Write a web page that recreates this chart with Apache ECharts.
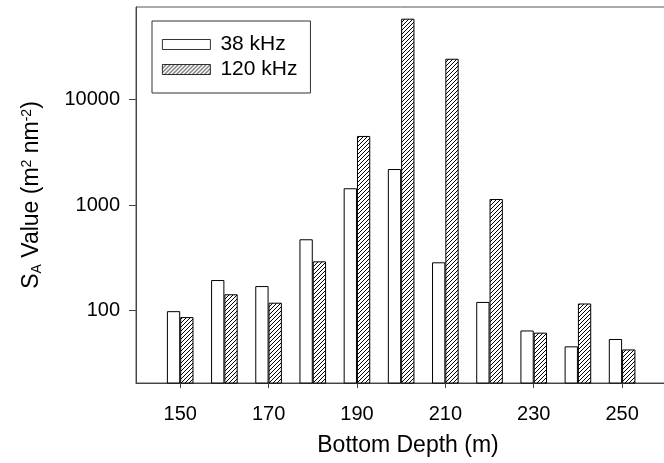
<!DOCTYPE html>
<html>
<head>
<meta charset="utf-8">
<script src="https://cdn.jsdelivr.net/npm/echarts@6/dist/echarts.min.js"></script>
<style>
  html, body { margin: 0; padding: 0; background: #fff; }
  #chart { width: 664px; height: 463px; }
</style>
</head>
<body>
<div id="chart"></div>
<script>
const depths = [150, 160, 170, 180, 190, 200, 210, 220, 230, 240, 250];
const sa38 = [99, 195, 171, 474, 1440, 2190, 287, 121, 65, 46, 54];
const sa120 = [87, 143, 119, 293, 4500, 57900, 24200, 1140, 62, 117, 43];
const xTicks = [150, 170, 190, 210, 230, 250];
const yTicks = [100, 1000, 10000];

const FONT = '"Liberation Sans", Arial, sans-serif';

// diagonal hatch for the 120 kHz bars
const hatch = document.createElement('canvas');
hatch.width = 4;
hatch.height = 4;
const hc = hatch.getContext('2d');
hc.fillStyle = '#fff';
hc.fillRect(0, 0, 4, 4);
hc.strokeStyle = '#000';
hc.lineWidth = 1;
hc.beginPath();
hc.moveTo(0, 4); hc.lineTo(4, 0);
hc.moveTo(-1, 1); hc.lineTo(1, -1);
hc.moveTo(3, 5); hc.lineTo(5, 3);
hc.stroke();

const myChart = echarts.init(document.getElementById('chart'));

// the source figure is cropped on the right, so the plot runs past the edge
const options = {
  animation: false,
  grid: {
    left: 136,
    top: 7,
    right: -16,
    bottom: 80,
    outerBoundsMode: 'none',
    show: true,
    borderColor: '#555',
    borderWidth: 1
  },
  legend: {
    left: 152,
    top: 21,
    orient: 'vertical',
    selectedMode: false,
    icon: 'rect',
    itemWidth: 48,
    itemHeight: 10,
    itemGap: 4,
    padding: [13, 13, 13, 10],
    borderColor: '#333',
    borderWidth: 1,
    itemStyle: { borderWidth: 0.8 },
    textStyle: {
      fontFamily: FONT,
      fontSize: 21,
      color: '#000',
      padding: [0, 0, 0, 5]
    }
  },
  xAxis: {
    type: 'value',
    min: 140,
    max: 263.1,
    name: 'Bottom Depth (m)',
    nameLocation: 'middle',
    nameGap: 51,
    nameTextStyle: { fontFamily: FONT, fontSize: 23, color: '#000' },
    splitLine: { show: false },
    axisLine: { lineStyle: { color: '#444' } },
    axisTick: { length: 5, lineStyle: { color: '#444' }, customValues: xTicks },
    axisLabel: {
      margin: 21,
      fontFamily: FONT,
      fontSize: 20,
      color: '#000',
      customValues: xTicks
    }
  },
  yAxis: {
    type: 'log',
    logBase: 10,
    min: 20.7,
    max: 74700,
    name: '{n|S}{sub|A}{n| Value (m}{sup|2}{n| nm}{sup|-2}{n|)}',
    nameLocation: 'middle',
    nameRotate: 90,
    nameGap: 92,
    nameTextStyle: {
      fontFamily: FONT,
      color: '#000',
      rich: {
        n: { fontFamily: FONT, fontSize: 23, color: '#000' },
        sub: { fontFamily: FONT, fontSize: 14, color: '#000', verticalAlign: 'bottom', padding: [8, 0, 0, 0] },
        sup: { fontFamily: FONT, fontSize: 14, color: '#000', verticalAlign: 'top', padding: [0, 0, 10, 0] }
      }
    },
    splitLine: { show: false },
    axisLine: { show: true, lineStyle: { color: '#444' } },
    axisTick: { length: 7, lineStyle: { color: '#444' }, customValues: yTicks },
    axisLabel: {
      margin: 16,
      fontFamily: FONT,
      fontSize: 20,
      color: '#000',
      customValues: yTicks,
      formatter: (v) => String(Math.round(v))
    }
  },
  series: [
    {
      name: '38 kHz',
      type: 'bar',
      barWidth: 13.3,
      barGap: '0%',
      clip: true,
      itemStyle: { color: '#fff', borderColor: '#000', borderWidth: 1 },
      data: depths.map((d, i) => [d, sa38[i]])
    },
    {
      name: '120 kHz',
      type: 'bar',
      barWidth: 13.3,
      barGap: '0%',
      clip: true,
      itemStyle: {
        color: { image: hatch, repeat: 'repeat' },
        borderColor: '#000',
        borderWidth: 1
      },
      data: depths.map((d, i) => [d, sa120[i]])
    }
  ]
};

options && myChart.setOption(options);
</script>
</body>
</html>
